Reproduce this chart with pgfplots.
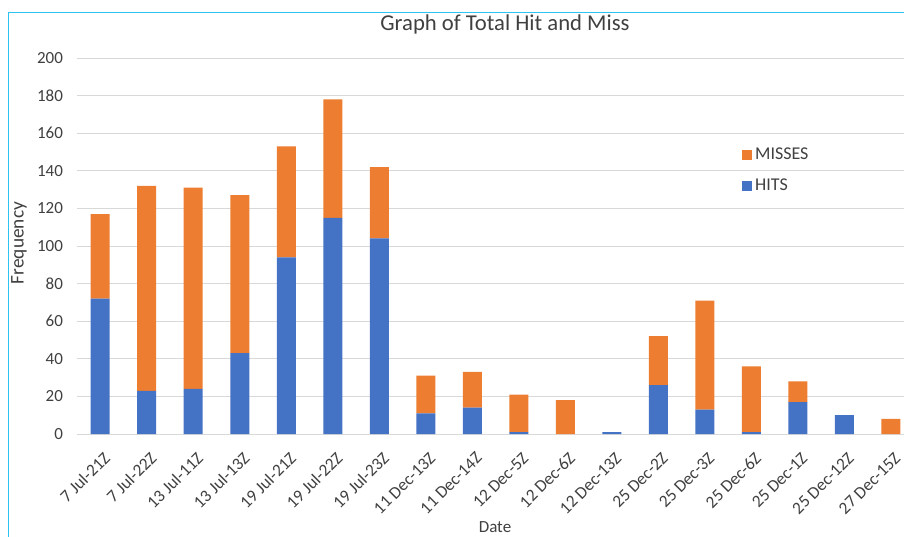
\documentclass[border=0pt]{standalone}
\usepackage{fontspec}
\setmainfont{Carlito}
\usepackage{pgfplots}
\pgfplotsset{compat=1.18}
\definecolor{hitblue}{HTML}{4472C4}
\definecolor{missorange}{HTML}{ED7D31}
\definecolor{gridgray}{HTML}{D9D9D9}
\definecolor{framecyan}{HTML}{2EC4F2}
\definecolor{txt}{HTML}{404040}
\begin{document}
\begin{tikzpicture}
\useasboundingbox (0,0) rectangle (678pt,-402pt);
\draw[framecyan, line width=0.9pt] (6.4pt,-9.4pt) rectangle (700pt,-420pt);
\begin{axis}[
  at={(57.75pt,-325.5pt)}, anchor=south west,
  scale only axis, width=627.75pt, height=282pt,
  ybar stacked, bar width=14.25pt,
  xmin=-0.5, xmax=17.5, ymin=0, ymax=200,
  xtick={0,...,17},
  xticklabels={7 Jul-21Z,7 Jul-22Z,13 Jul-11Z,13 Jul-13Z,19 Jul-21Z,19 Jul-22Z,19 Jul-23Z,11 Dec-13Z,11 Dec-14Z,12 Dec-5Z,12 Dec-6Z,12 Dec-13Z,25 Dec-2Z,25 Dec-3Z,25 Dec-6Z,25 Dec-1Z,25 Dec-12Z,27 Dec-15Z},
  ytick={0,20,...,200},
  /pgf/number format/assume math mode=true,
  ymajorgrids, grid style={gridgray, line width=0.75pt},
  axis line style={draw=none},
  major tick length=0pt,
  tick label style={font=\fontsize{12.75}{15}\selectfont, text=txt},
  xticklabel style={xshift=7.5pt, yshift=-13.5pt, rotate=45, anchor=east, font=\fontsize{13}{15}\selectfont},
  yticklabel style={xshift=-7pt},
  legend style={draw=none, fill=none, at={(0.79,0.776)}, anchor=north west,
    font=\fontsize{13.5}{16}\selectfont, text=txt, row sep=9pt},
  reverse legend,
  legend cell align=left,
  legend image code/.code={\fill[#1] (0pt,-3.75pt) rectangle (7.5pt,3.75pt);},
]
\addplot[fill=hitblue, draw=none] coordinates {
(0,72) (1,23) (2,24) (3,43) (4,94) (5,115) (6,104) (7,11) (8,14) (9,1) (10,0) (11,1) (12,26) (13,13) (14,1) (15,17) (16,10) (17,0)};
\addplot[fill=missorange, draw=none] coordinates {
(0,45) (1,109) (2,107) (3,84) (4,59) (5,63) (6,38) (7,20) (8,19) (9,20) (10,18) (11,0) (12,26) (13,58) (14,35) (15,11) (16,0) (17,8)};
\legend{HITS,MISSES}
\end{axis}
\node[text=txt, font=\fontsize{17}{20}\selectfont] at (378.75pt,-18pt) {Graph of Total Hit and Miss};
\node[text=txt, font=\fontsize{12.75}{15}\selectfont] at (371.25pt,-395pt) {Date};
\node[text=txt, font=\fontsize{14.5}{17}\selectfont, rotate=90] at (14.25pt,-182.25pt) {Frequency};
\end{tikzpicture}
\end{document}
